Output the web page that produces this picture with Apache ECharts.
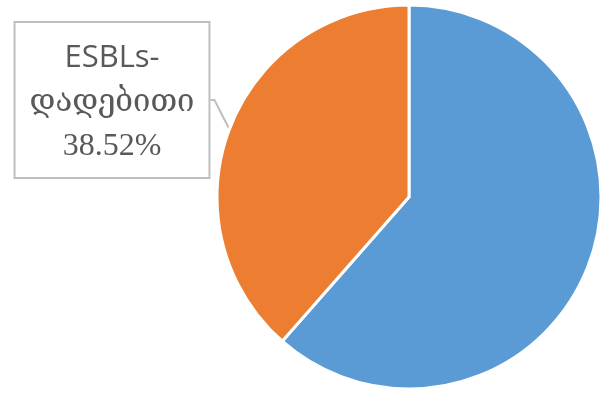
<!DOCTYPE html>
<html>
<head>
<meta charset="utf-8">
<title>ESBLs</title>
<script type="text/javascript" src="https://cdn.jsdelivr.net/npm/echarts@6/dist/echarts.min.js"></script>
<style>
	html, body { margin: 0; padding: 0; background: #fff; }
	#main { width: 603px; height: 393px; }
</style>
</head>
<body>
<div id="main"></div>
<script type="text/javascript">
	// data
	var names = [ 'ESBLs-უარყოფითი', 'ESBLs-დადებითი' ];
	var values = [ 61.48, 38.52 ];
	var colors = [ '#5B9BD5', '#ED7D31' ];
	var labelled = [ false, true ];

	var myChart = echarts.init(document.getElementById('main'));

	var data = [];
	for (var i = 0; i < names.length; i++) {
		data.push({
			name : names[i],
			value : values[i],
			itemStyle : { color : colors[i] },
			label : { show : labelled[i] },
			labelLine : { show : labelled[i] }
		});
	}

	var option = {
		animation : false,
		series : [ {
			type : 'pie',
			center : [ 409, 197 ],
			radius : 192,
			startAngle : 90,
			clockwise : true,
			itemStyle : {
				borderColor : '#fff',
				borderWidth : 3
			},
			label : {
				position : 'outside',
				formatter : function(p) {
					var parts = p.name.split('-');
					return '{a|' + parts[0] + '-}\n{b|' + parts[1] + '}\n{c|' + p.value.toFixed(2) + '%}';
				},
				backgroundColor : '#fff',
				borderColor : '#bfbfbf',
				borderWidth : 2,
				padding : [ 12, 14, 8, 14 ],
				color : '#595959',
				rich : {
					a : { fontFamily : 'Open Sans', fontSize : 31, lineHeight : 46, color : '#595959' },
					b : { fontFamily : 'DejaVu Serif', fontSize : 31, lineHeight : 44, color : '#595959' },
					c : { fontFamily : 'Liberation Serif', fontSize : 32, lineHeight : 44, color : '#595959' }
				}
			},
			labelLine : {
				length : 4,
				length2 : 4,
				lineStyle : { color : '#bfbfbf', width : 2 }
			},
			labelLayout : function(params) {
				return { x : 112, y : 100, align : 'center', verticalAlign : 'middle' };
			},
			data : data
		} ]
	};

	myChart.setOption(option);
</script>
</body>
</html>
